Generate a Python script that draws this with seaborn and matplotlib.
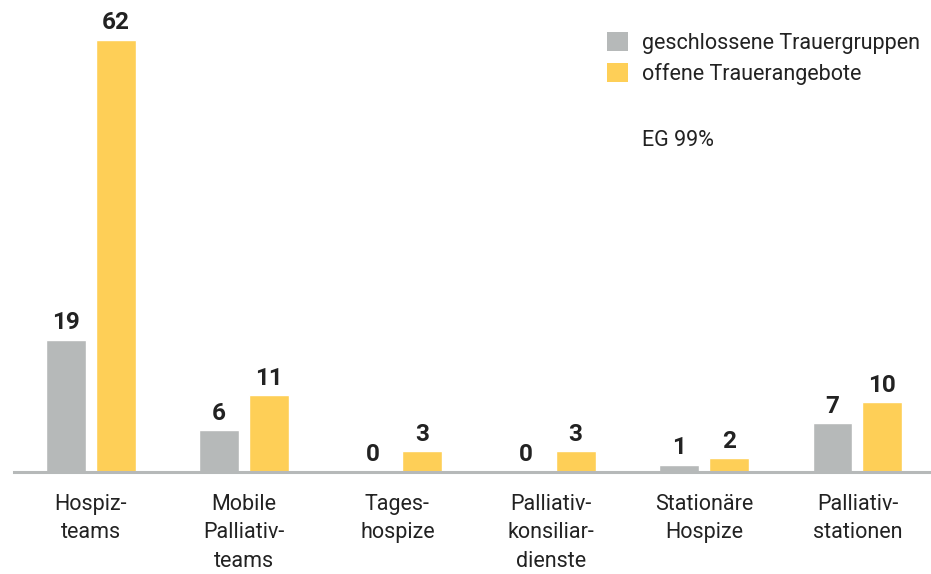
import matplotlib.pyplot as plt
import pandas as pd
import seaborn as sns
from matplotlib.patches import Patch

# Daten
kategorien = ["Hospiz-\nteams", "Mobile\nPalliativ-\nteams", "Tages-\nhospize",
              "Palliativ-\nkonsiliar-\ndienste", "Stationäre\nHospize", "Palliativ-\nstationen"]
geschlossen = [19, 6, 0, 0, 1, 7]
offen = [62, 11, 3, 3, 2, 10]
serien = ["geschlossene Trauergruppen", "offene Trauerangebote"]
farben = ["#b6b9b9", "#fecf57"]

df = pd.DataFrame({
    "kategorie": kategorien * 2,
    "wert": geschlossen + offen,
    "serie": [serien[0]] * len(kategorien) + [serien[1]] * len(kategorien),
})

sns.set_style("white")
plt.rcParams['font.family'] = ['Roboto', 'DejaVu Sans']

fig = plt.figure(figsize=(9.31, 5.74), dpi=100)
ax = fig.add_axes([14 / 931, 102 / 574, 917 / 931, 472 / 574])

sns.barplot(data=df, x="kategorie", y="wert", hue="serie", palette=farben,
            width=0.65, gap=0.2, order=kategorien, hue_order=serien,
            legend=False, ax=ax, saturation=1)

# Zahlen über den Balken
for container in ax.containers:
    ax.bar_label(container, fmt='%d', padding=4, fontsize=17.5, fontweight='bold',
                 color='#222222')

ax.set_xlim(-0.5, 5.48)
ax.set_ylim(0, 67.7)
ax.set_xlabel("")
ax.set_ylabel("")
ax.set_yticks([])
for s in ["top", "right", "left"]:
    ax.spines[s].set_visible(False)
ax.spines["bottom"].set_color("#b6b9b9")
ax.spines["bottom"].set_linewidth(2.2)
ax.tick_params(axis='x', length=0, pad=16, labelsize=15.5, labelcolor='#222222')
for lbl in ax.get_xticklabels():
    lbl.set_linespacing(1.45)

# Legende
handles = [Patch(facecolor=c, edgecolor='none') for c in farben]
fig.legend(handles, serien, loc='upper left', bbox_to_anchor=(588 / 931, 1 - 13 / 574),
           frameon=False, fontsize=15.5, handlelength=0.95, handleheight=0.95,
           handletextpad=0.65, labelspacing=0.4, labelcolor='#222222')
fig.text(642 / 931, 1 - 140 / 574, "EG 99%", fontsize=15.5, color='#222222', va='center')

plt.savefig("out.png", dpi=100)
